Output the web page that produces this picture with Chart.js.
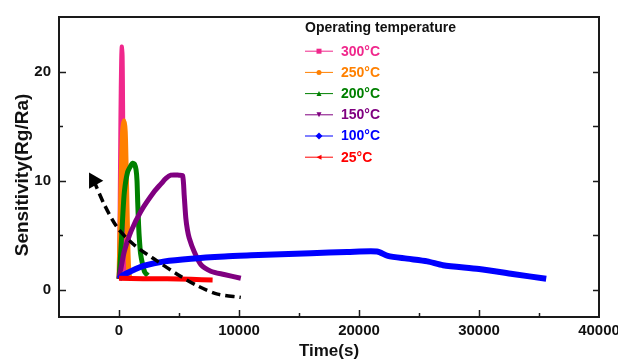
<!DOCTYPE html>
<html lang="en">
<head>
<meta charset="UTF-8">
<title>Sensitivity vs time</title>
<script src="https://cdn.jsdelivr.net/npm/chart.js"></script>
<style>
  html, body { margin: 0; padding: 0; background: #fff; }
</style>
</head>
<body>
<canvas id="myChart" width="618" height="362"></canvas>
<script>
// series names and colours
const labels = ['300°C', '250°C', '200°C', '150°C', '100°C', '25°C'];
const colors = ['#f0288c', '#ff8000', '#008000', '#800080', '#0000ff', '#ff0000'];
const markers = ['square', 'circle', 'triUp', 'triDown', 'diamond', 'triLeft'];

// time (s) and sensitivity for each temperature
const t300 = [0, 60, 120, 180, 230, 300, 340, 380, 420, 470, 520];
const s300 = [1, 8, 16, 21, 22.3, 21.5, 17, 11, 6, 2.5, 1.2];

const t250 = [0, 100, 200, 300, 420, 520, 600, 680, 750, 830, 900];
const s250 = [1, 6, 11, 14.5, 15.5, 14.5, 11, 7, 3.5, 1.5, 1.1];

const t200 = [0, 150, 300, 450, 720, 1000, 1150, 1300, 1420, 1500, 1560, 1630, 1700, 1800, 1970, 2150, 2400];
const s200 = [1, 3.5, 6.5, 9, 10.8, 11.4, 11.6, 11.5, 11, 10, 8, 6, 4.6, 3.3, 2.3, 1.6, 1.3];

const t150 = [0, 200, 440, 1000, 1830, 2940, 3500, 3910, 4320, 5000, 5300, 5430, 5570, 5700, 5850, 6260, 6820, 7650, 8760, 10150];
const s150 = [1, 2.2, 3.5, 5.35, 7.2, 9.0, 9.7, 10.2, 10.5, 10.5, 10.45, 8.7, 6.55, 5.5, 4.75, 3.5, 2.3, 1.7, 1.4, 1.05];

const t100 = [0, 300, 1000, 2100, 3800, 6000, 8800, 11000, 13500, 16000, 19000, 21500, 22400, 24000, 25700, 27000, 30000, 32800, 35600];
const s100 = [1, 1.3, 1.7, 2.2, 2.6, 2.85, 3.05, 3.15, 3.25, 3.35, 3.45, 3.5, 3.1, 2.85, 2.6, 2.25, 1.9, 1.45, 1.0];

const t25 = [0, 2000, 4000, 6000, 7800];
const s25 = [1.05, 1.0, 1.0, 0.95, 0.9];

// dashed guide arrow (starts at the arrow head)
const arrowT = [-2100, -1220, -110, 1270, 3220, 4880, 6540, 8210, 10150];
const arrowS = [10.0, 7.8, 5.65, 4.1, 2.6, 1.4, 0.36, -0.4, -0.7];

const times = [t300, t250, t200, t150, t100, t25];
const sens = [s300, s250, s200, s150, s100, s25];

const xTicks = [0, 10000, 20000, 30000, 40000];
const yTicks = [0, 10, 20];
const legendTitle = 'Operating temperature';
const yTitle = 'Sensitivity(Rg/Ra)';

const FONT = "'Liberation Sans', Arial, sans-serif";

function toPoints(xs, ys) {
    return xs.map((x, i) => ({ x: x, y: ys[i] }));
}

const datasets = labels.map((name, i) => ({
    label: name,
    data: toPoints(times[i], sens[i]),
    borderColor: colors[i],
    borderWidth: i === 0 ? 4 : (i === 4 ? 6 : 5),
    pointRadius: 0,
    tension: 0.25,
    fill: false,
    order: 6 - i
}));

datasets.push({
    label: 'guide',
    data: toPoints(arrowT, arrowS),
    borderColor: '#000',
    borderWidth: 3.5,
    borderDash: [9, 5],
    tension: 0.3,
    pointRadius: arrowT.map((_, i) => i === 0 ? 6 : 0),
    pointStyle: 'triangle',
    pointRotation: -30,
    pointBackgroundColor: '#000',
    pointBorderColor: '#000',
    fill: false,
    order: 0
});

function drawMarker(ctx, kind, x, y, r) {
    ctx.beginPath();
    if (kind === 'square') {
        ctx.rect(x - r, y - r, 2 * r, 2 * r);
    } else if (kind === 'circle') {
        ctx.arc(x, y, r, 0, Math.PI * 2);
    } else if (kind === 'triUp') {
        ctx.moveTo(x, y - r); ctx.lineTo(x + r, y + r); ctx.lineTo(x - r, y + r);
    } else if (kind === 'triDown') {
        ctx.moveTo(x, y + r); ctx.lineTo(x + r, y - r); ctx.lineTo(x - r, y - r);
    } else if (kind === 'diamond') {
        ctx.moveTo(x, y - r - 1); ctx.lineTo(x + r + 1, y); ctx.lineTo(x, y + r + 1); ctx.lineTo(x - r - 1, y);
    } else {
        ctx.moveTo(x - r, y); ctx.lineTo(x + r, y - r); ctx.lineTo(x + r, y + r);
    }
    ctx.closePath();
    ctx.fill();
}

// frame, inward ticks, y title and the legend
const decorations = {
    id: 'decorations',
    afterDraw(chart) {
        const ctx = chart.ctx;
        const a = chart.chartArea;
        const xs = chart.scales.x;
        const ys = chart.scales.y;
        ctx.save();
        ctx.strokeStyle = '#1a1a1a';
        ctx.lineWidth = 2;
        ctx.strokeRect(a.left, a.top, a.right - a.left, a.bottom - a.top);

        ctx.lineWidth = 1.5;
        ctx.beginPath();
        for (let v = -5000; v < 40000; v += 5000) {
            if (v <= xs.min) continue;
            const px = Math.round(xs.getPixelForValue(v)) + 0.5;
            const len = v % 10000 === 0 ? 7 : 4;
            ctx.moveTo(px, a.bottom);
            ctx.lineTo(px, a.bottom - len);
        }
        for (let v = 0; v <= 20; v += 5) {
            const py = Math.round(ys.getPixelForValue(v)) + 0.5;
            const len = v % 10 === 0 ? 7 : 4;
            ctx.moveTo(a.left, py);
            ctx.lineTo(a.left + len, py);
            ctx.moveTo(a.right, py);
            ctx.lineTo(a.right - 6, py);
        }
        ctx.stroke();

        // y axis title
        ctx.save();
        ctx.translate(23, 175);
        ctx.rotate(-Math.PI / 2);
        ctx.textAlign = 'center';
        ctx.textBaseline = 'middle';
        ctx.fillStyle = '#111';
        ctx.font = 'bold 19px ' + FONT;
        ctx.fillText(yTitle, 0, 0);
        ctx.restore();

        // legend
        const lx = 305, ly = 28, gap = 21.2;
        ctx.textBaseline = 'middle';
        ctx.textAlign = 'left';
        ctx.fillStyle = '#111';
        ctx.font = 'bold 14px ' + FONT;
        ctx.fillText(legendTitle, lx, ly);
        labels.forEach((name, i) => {
            const y = ly + 22.7 + i * gap;
            ctx.strokeStyle = colors[i];
            ctx.fillStyle = colors[i];
            ctx.lineWidth = 1;
            ctx.beginPath();
            ctx.moveTo(lx, y + 0.5);
            ctx.lineTo(lx + 28, y + 0.5);
            ctx.stroke();
            drawMarker(ctx, markers[i], lx + 14, y + 0.5, 2.5);
            ctx.fillText(name, lx + 36, y + 1);
        });
        ctx.restore();
    }
};

const ctx = document.getElementById('myChart').getContext('2d');
const myChart = new Chart(ctx, {
    type: 'line',
    data: { datasets: datasets },
    options: {
        responsive: false,
        animation: false,
        layout: { padding: { top: 14, right: 19, left: 0, bottom: 0 } },
        plugins: {
            legend: { display: false },
            tooltip: { enabled: false }
        },
        scales: {
            x: {
                type: 'linear',
                min: -5000,
                max: 40000,
                afterBuildTicks: s => { s.ticks = xTicks.map(v => ({ value: v })); },
                afterFit: s => { s.height = 45; s.paddingLeft = 0; s.paddingRight = 0; },
                ticks: {
                    font: { family: FONT, size: 15, weight: 'bold' },
                    color: '#111',
                    padding: 5,
                    maxRotation: 0,
                    autoSkip: false,
                    callback: v => String(v)
                },
                grid: { display: false, drawTicks: false },
                border: { display: false },
                title: {
                    display: true,
                    text: 'Time(s)',
                    font: { family: FONT, size: 17, weight: 'bold' },
                    color: '#111',
                    padding: 0
                }
            },
            y: {
                type: 'linear',
                min: -2.5,
                max: 25,
                afterBuildTicks: s => { s.ticks = yTicks.map(v => ({ value: v })); },
                afterFit: s => { s.width = 59; },
                ticks: {
                    font: { family: FONT, size: 15, weight: 'bold' },
                    color: '#111',
                    padding: 8
                },
                grid: { display: false, drawTicks: false },
                border: { display: false },
                title: { display: false }
            }
        }
    },
    plugins: [decorations]
});
</script>
</body>
</html>
